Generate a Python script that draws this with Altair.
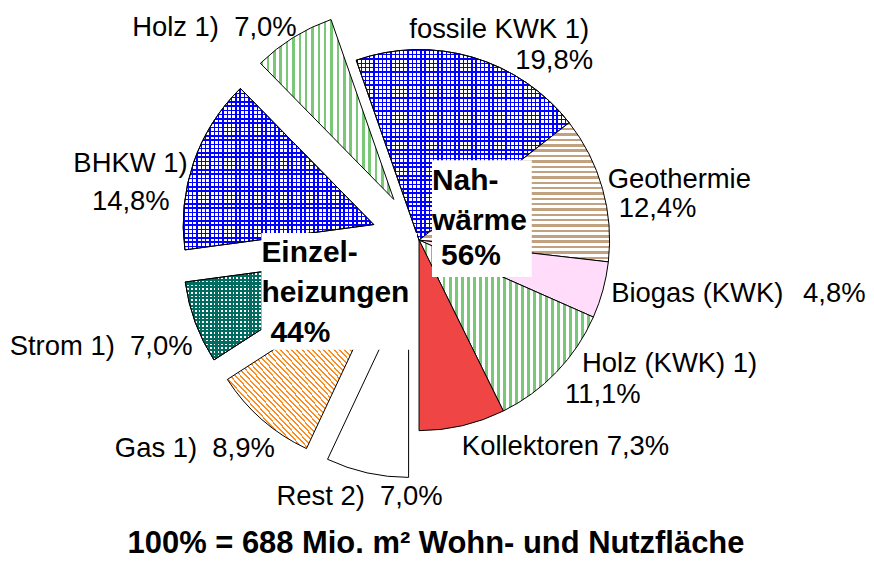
import altair as alt
import pandas as pd

# ---------------- data ----------------
names = ["fossile KWK 1)", "Geothermie", "Biogas (KWK)", "Holz (KWK) 1)", "Kollektoren",
         "Rest 2)", "Gas 1)", "Strom 1)", "BHKW 1)", "Holz 1)"]
values = [19.8, 12.4, 4.8, 11.1, 7.3, 7.0, 8.9, 7.0, 14.8, 7.0]
groups = ["Nah"] * 5 + ["Einzel"] * 5
nah_lines = ["Nah-", "wärme", "56%"]
einzel_lines = ["Einzel-", "heizungen", "44%"]
title_text = "100% = 688 Mio. m² Wohn- und Nutzfläche"

df = pd.DataFrame({"name": names, "value": values, "group": groups,
                   "idx": list(range(len(names)))})

# ---------------- layout / style ----------------
W, H = 858, 557
CX, CY = 412, 232
R = 191
EXPLODE = 48
LABEL_R = 211
FONT = "Liberation Sans"
LBL_SIZE = 27.5
BOLD_SIZE = 30


def stripes(color, bg, n, frac, direction):
    stops = []
    for i in range(n):
        a = round(i / n, 5)
        b = round((i + frac) / n, 5)
        c = round((i + 1) / n, 5)
        stops += [dict(offset=a, color=color), dict(offset=b, color=color),
                  dict(offset=b, color=bg), dict(offset=c, color=bg)]
    x1, y1, x2, y2 = {"v": (0, 0, 1, 0), "h": (0, 0, 0, 1), "d": (0, 1, 1, 0)}[direction]
    return dict(gradient="linear", x1=x1, y1=y1, x2=x2, y2=y2, stops=stops)


CLEAR = "rgba(255,255,255,0)"
BLUE = "#0000ff"
FILLS = {
    "fossile KWK 1)": [stripes(BLUE, "white", 50, 0.33, "v"), stripes(BLUE, CLEAR, 44, 0.33, "h")],
    "Geothermie": [stripes("#c1a17f", "white", 26, 0.45, "h")],
    "Biogas (KWK)": ["#ffdcfa"],
    "Holz (KWK) 1)": [stripes("#78c878", "white", 29, 0.4, "v")],
    "Kollektoren": ["#f04545"],
    "Rest 2)": ["white"],
    "Gas 1)": [stripes("#ff8a1e", "white", 60, 0.35, "d")],
    "Strom 1)": [stripes("#006b5e", "white", 50, 0.55, "v"), stripes("#006b5e", CLEAR, 28, 0.55, "h")],
    "BHKW 1)": [stripes(BLUE, "white", 44, 0.33, "v"), stripes(BLUE, CLEAR, 38, 0.33, "h")],
    "Holz 1)": [stripes("#78c878", "white", 21, 0.4, "v")],
}

# label pieces: (text field, align, dx, dy) relative to the slice's label anchor
LABELS = {
    "fossile KWK 1)": [("name", "right", 111, 0), ("pct", "right", 115, 31)],
    "Geothermie": [("name", "left", -14, 5), ("pct", "left", -3, 34)],
    "Biogas (KWK)": [("name", "left", -11, 7), ("pct", "right", 244, 7)],
    "Holz (KWK) 1)": [("name", "left", 11, -14), ("pct", "left", -6, 17)],
    "Kollektoren": [("both1", "left", -5, 10)],
    "Rest 2)": [("both2", "right", 80, 13)],
    "Gas 1)": [("both2", "right", 26, 22)],
    "Strom 1)": [("both2", "right", 16, 26)],
    "BHKW 1)": [("name", "right", 13, 16), ("pct", "right", -5, 54)],
    "Holz 1)": [("both2", "right", 14, 15)],
}

# ---------------- derived geometry via Vega-Lite transforms ----------------
base = (
    alt.Chart(df)
    .transform_joinaggregate(total="sum(value)")
    .transform_calculate(nahv="datum.group == 'Nah' ? datum.value : 0")
    .transform_joinaggregate(nahsum="sum(nahv)")
    .transform_window(cum="sum(value)", sort=[alt.SortField("idx")], frame=[None, 0])
    .transform_calculate(t1="PI - 2*PI*datum.nahsum/datum.total + 2*PI*datum.cum/datum.total")
    .transform_calculate(t0="datum.t1 - 2*PI*datum.value/datum.total")
    .transform_calculate(mid="(datum.t0 + datum.t1)/2")
    .transform_calculate(ex=f"datum.group == 'Einzel' ? {EXPLODE} : 0")
    .transform_calculate(cx=f"{CX} + datum.ex*sin(datum.mid)")
    .transform_calculate(cy=f"{CY} - datum.ex*cos(datum.mid)")
    .transform_calculate(ax=f"datum.cx + {LABEL_R}*sin(datum.mid)")
    .transform_calculate(ay=f"datum.cy - {LABEL_R}*cos(datum.mid)")
    .transform_calculate(pct="replace(format(datum.value, '.1f'), '.', ',') + '%'")
    .transform_calculate(both1="datum.name + ' ' + datum.pct")
    .transform_calculate(both2="datum.name + '\u00a0 ' + datum.pct")
)

layers = []
for name in names:
    for fill in FILLS[name]:
        layers.append(
            base.transform_filter(alt.datum.name == name)
            .mark_arc(radius=R, fill=fill, stroke="black", strokeWidth=1)
            .encode(
                x=alt.X("cx:Q", scale=None, axis=None),
                y=alt.Y("cy:Q", scale=None, axis=None),
                theta=alt.Theta("t0:Q", scale=None, stack=None),
                theta2=alt.Theta2("t1:Q"),
            )
        )

dummy = alt.Chart(pd.DataFrame({"k": [0]}))

# white boxes behind the group labels
for (x0, x1, y0, y1) in [(425, 525, 152, 269), (254, 410, 225, 342)]:
    layers.append(
        dummy.mark_rect(fill="white", stroke=None).encode(
            x=alt.value(x0), x2=alt.value(x1), y=alt.value(y0), y2=alt.value(y1))
    )

# slice labels
for name in names:
    for field, align, dx, dy in LABELS[name]:
        layers.append(
            base.transform_filter(alt.datum.name == name)
            .mark_text(align=align, baseline="alphabetic", dx=dx, dy=dy,
                       font=FONT, fontSize=LBL_SIZE, color="black")
            .encode(
                x=alt.X("ax:Q", scale=None, axis=None),
                y=alt.Y("ay:Q", scale=None, axis=None),
                text=alt.Text(f"{field}:N"),
            )
        )

# group labels
group_pos = [
    (nah_lines, [(425, 182), (425, 222), (434, 257)]),
    (einzel_lines, [(254, 254), (254, 294), (263, 334)]),
]
for lines, pos in group_pos:
    for txt, (x, y) in zip(lines, pos):
        layers.append(
            dummy.mark_text(align="left", baseline="alphabetic", font=FONT,
                            fontSize=BOLD_SIZE, fontWeight="bold", color="black")
            .encode(x=alt.value(x), y=alt.value(y), text=alt.value(txt))
        )

# bottom caption
layers.append(
    dummy.mark_text(align="center", baseline="alphabetic", font=FONT,
                    fontSize=31, fontWeight="bold", color="black")
    .encode(x=alt.value(429), y=alt.value(546), text=alt.value(title_text))
)

chart = (
    alt.layer(*layers)
    .properties(width=W, height=H, padding=0, background="white")
    .configure_view(stroke=None)
)

chart.save("out.html", embed_options={"renderer": "svg", "actions": False})
